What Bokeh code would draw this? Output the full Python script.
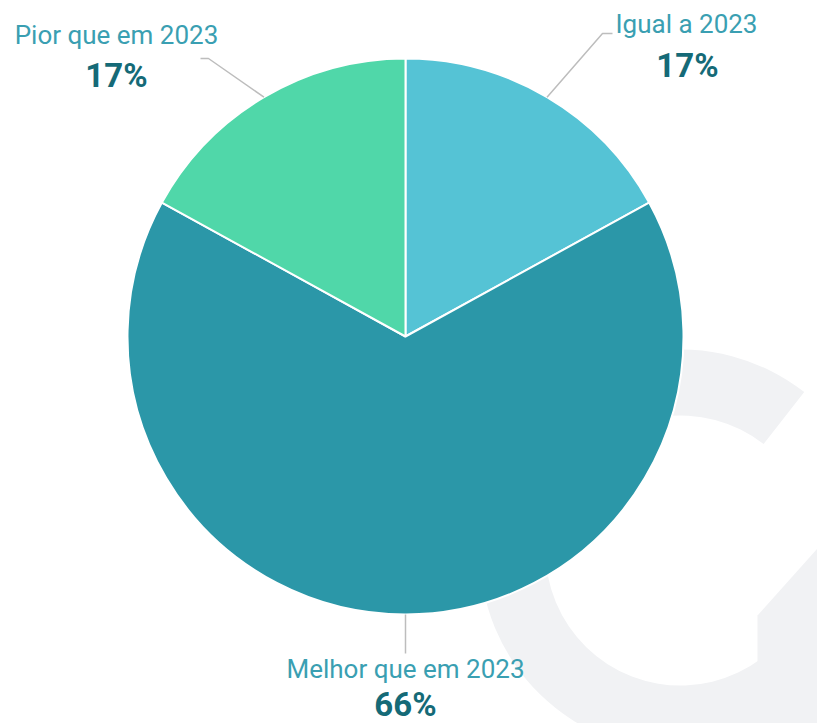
import numpy as np
from bokeh.plotting import figure
from bokeh.models import Range1d
from bokeh.core.properties import value
from bokeh.embed import file_html
from bokeh.resources import INLINE

# ---- data ----
categories = ["Igual a 2023", "Melhor que em 2023", "Pior que em 2023"]
percentages = [17, 66, 17]
pct_labels = ["17%", "66%", "17%"]
colors = ["#55C3D5", "#2B97A8", "#50D7A9"]

# ---- layout ----
W, H = 817, 723
cx, cy, R = 405, 387, 278

frac = np.array(percentages, dtype=float) / sum(percentages)
cum = np.concatenate([[0.0], np.cumsum(frac)])
start = np.pi / 2 - cum[:-1] * 2 * np.pi
end = np.pi / 2 - cum[1:] * 2 * np.pi
mid = (start + end) / 2

p = figure(width=W, height=H, x_range=Range1d(0, W), y_range=Range1d(0, H),
           output_backend="svg", toolbar_location=None, min_border=0)
p.axis.visible = False
p.grid.visible = False
p.outline_line_color = None
p.background_fill_color = "white"

# faint watermark (decoration, behind the pie)
wm = "#f1f2f4"
p.annular_wedge(x=[680], y=[173], inner_radius=135, outer_radius=201,
                inner_radius_units="screen", outer_radius_units="screen",
                start_angle=[np.deg2rad(52)], end_angle=[np.deg2rad(-30)],
                direction="anticlock", fill_color=wm, line_color=None)
p.patch(x=[757, 817, 817, 757], y=[108, 175, 0, 0],
        fill_color=wm, line_color=None)

p.wedge(x=[cx] * 3, y=[cy] * 3, radius=R, radius_units="screen",
        start_angle=list(start), end_angle=list(end), direction="clock",
        fill_color=colors, line_color="white", line_width=2)

# leader lines and labels
elbows = [(602, 690), None, (208, 665)]
ends = [(612, 690), (405, 70), (200, 665)]
label_pos = [(686, 700), (405, 55), (116, 689)]
pct_pos = [(687, 658), (405, 19), (116, 648)]

for i in range(3):
    ex = cx + R * np.cos(mid[i])
    ey = cy + R * np.sin(mid[i])
    xs, ys = [ex], [ey]
    if elbows[i] is not None:
        xs.append(elbows[i][0]); ys.append(elbows[i][1])
    xs.append(ends[i][0]); ys.append(ends[i][1])
    p.line(xs, ys, line_color="#bdbdbd", line_width=1.5)
    p.text(x=[label_pos[i][0]], y=[label_pos[i][1]], text=[categories[i]],
           text_font=value("Roboto"), text_font_size="26px",
           text_color="#3a9fb2", text_align="center", text_baseline="middle")
    p.text(x=[pct_pos[i][0]], y=[pct_pos[i][1]], text=[pct_labels[i]],
           text_font=value("Roboto"), text_font_size="33px", text_font_style="bold",
           text_color="#156a77", text_align="center", text_baseline="middle")

open("out.html", "w").write(file_html(p, INLINE))
